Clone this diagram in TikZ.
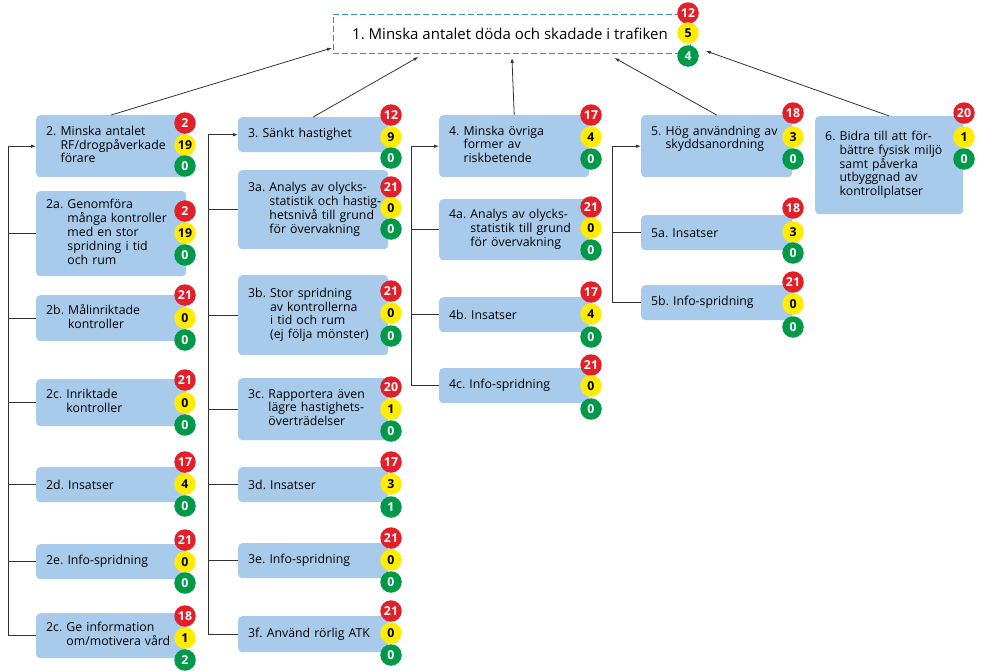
\documentclass[tikz,border=0pt]{standalone}
\usepackage{fontspec}
\setmainfont{Open Sans}
\usetikzlibrary{arrows.meta}
\definecolor{boxblue}{HTML}{A8CBEB}
\definecolor{tlred}{HTML}{E3202A}
\definecolor{tlyellow}{HTML}{FFEC00}
\definecolor{tlgreen}{HTML}{00994A}
\definecolor{dashblue}{HTML}{3A8DCB}
\definecolor{linegray}{HTML}{333333}
\frenchspacing
\newcommand\tlights[8]{%
  \node[lr] (#1r) at (#2,#3) {#6};
  \node[ly] (#1y) at (#2,#4) {#7};
  \node[lg] (#1g) at (#2,#5) {#8};}
\newcommand\goalbox[7]{%
  \node[gbox, minimum width=#4, minimum height=#5, text width=#6, anchor=north west] (#1) at (#2,#3) {#7};}
\newcommand\tb[1]{\begin{tabular}{@{}l@{\ }l@{}}#1\end{tabular}}
\begin{document}
\begin{tikzpicture}[x=1pt,y=-1pt,
  gbox/.style={fill=boxblue, rounded corners=4pt, inner xsep=10pt, inner ysep=0pt, align=left,
    font=\fontsize{12.3}{13.7}\selectfont},
  lbase/.style={circle, minimum size=21.5pt, inner sep=0pt, font=\bfseries\fontsize{12.3}{12.3}\selectfont},
  lr/.style={lbase, fill=tlred, text=white},
  ly/.style={lbase, fill=tlyellow, text=black},
  lg/.style={lbase, fill=tlgreen, text=white},
  conn/.style={draw=linegray, line width=0.8pt},
  arr/.style={conn, -{Latex[length=5pt,width=3.5pt]}},
  topbox/.style={draw=dashblue, line width=0.9pt, dash pattern=on 6pt off 3pt, inner sep=0pt}]
\useasboundingbox (0,0) rectangle (981,670);

% top goal
\node[topbox, minimum width=357, minimum height=39, anchor=north west] (top) at (333,14) {};
\node[anchor=west, inner sep=0pt, font=\fontsize{15}{16}\selectfont] (toptext) at (352,33.5) {1. Minska antalet döda och skadade i trafiken};
\tlights{top}{688}{13}{33}{56}{12}{5}{4}

% column 2
\goalbox{n2}{36}{115}{150}{62}{130}{\tb{2. & Minska antalet\\ & RF/drogpåverkade\\ & förare}}
\goalbox{n2a}{36}{191}{150}{85}{130}{\tb{2a. & Genomföra\\ & många kontroller\\ & med en stor\\ & spridning i tid\\ & och rum}}
\goalbox{n2b}{36}{295}{150}{46}{130}{\tb{2b. & Målinriktade\\ & kontroller}}
\goalbox{n2c}{36}{379}{150}{47}{130}{\tb{2c. & Inriktade\\ & kontroller}}
\goalbox{n2d}{36}{467}{150}{35}{130}{2d. Insatser}
\goalbox{n2e}{36}{544}{150}{35}{130}{2e. Info-spridning}
\goalbox{n2f}{36}{613}{150}{45}{130}{\tb{2c. & Ge information\\ & om/motivera vård}}
\tlights{n2}{185}{123}{145}{166}{2}{19}{0}
\tlights{n2a}{185}{211}{233}{255}{2}{19}{0}
\tlights{n2b}{185}{295}{318}{340}{21}{0}{0}
\tlights{n2c}{185}{380}{403}{425}{21}{0}{0}
\tlights{n2d}{185}{462}{484}{506}{17}{4}{0}
\tlights{n2e}{185}{540}{562}{583}{21}{0}{0}
\tlights{n2f}{185}{616}{638}{660}{18}{1}{2}

% column 3
\goalbox{n3}{238}{117}{150}{35}{130}{3. Sänkt hastighet}
\goalbox{n3a}{238}{170}{150}{79}{130}{\tb{3a. & Analys av olycks-\\ & statistik och hastig-\\ & hetsnivå till grund\\ & för övervakning}}
\goalbox{n3b}{238}{275}{150}{80}{130}{\tb{3b. & Stor spridning\\ & av kontrollerna\\ & i tid och rum\\ & (ej följa mönster)}}
\goalbox{n3c}{238}{378}{150}{62}{130}{\tb{3c. & Rapportera även\\ & lägre hastighets-\\ & överträdelser}}
\goalbox{n3d}{238}{467}{150}{35}{130}{3d. Insatser}
\goalbox{n3e}{238}{543}{150}{35}{130}{3e. Info-spridning}
\goalbox{n3f}{238}{616}{150}{36}{130}{3f. Använd rörlig ATK}
\tlights{n3}{391}{115}{137}{158}{12}{9}{0}
\tlights{n3a}{391}{187}{208}{229}{21}{0}{0}
\tlights{n3b}{391}{291}{313}{336}{21}{0}{0}
\tlights{n3c}{391}{387}{409}{431}{20}{1}{0}
\tlights{n3d}{391}{462}{484}{507}{17}{3}{1}
\tlights{n3e}{391}{538}{560}{582}{21}{0}{0}
\tlights{n3f}{391}{611}{633}{655}{21}{0}{0}

% column 4
\goalbox{n4}{439}{115}{150}{62}{130}{\tb{4. & Minska övriga\\ & former av\\ & riskbetende}}
\goalbox{n4a}{439}{199}{150}{61}{130}{\tb{4a. & Analys av olycks-\\ & statistik till grund\\ & för övervakning}}
\goalbox{n4b}{439}{297}{150}{35}{130}{4b. Insatser}
\goalbox{n4c}{439}{368}{150}{35}{130}{4c. Info-spridning}
\tlights{n4}{591}{115}{137}{159}{17}{4}{0}
\tlights{n4a}{591}{207}{228}{250}{21}{0}{0}
\tlights{n4b}{591}{292}{314}{337}{17}{4}{0}
\tlights{n4c}{591}{365}{386}{409}{21}{0}{0}

% column 5
\goalbox{n5}{641}{115}{151}{62}{131}{\tb{5. & Hög användning av\\ & skyddsanordning\\ & \strut}}
\goalbox{n5a}{641}{215}{151}{35}{131}{5a. Insatser}
\goalbox{n5b}{641}{285}{151}{35}{131}{5b. Info-spridning}
\tlights{n5}{793}{113}{137}{159}{18}{3}{0}
\tlights{n5a}{793}{208}{232}{253}{18}{3}{0}
\tlights{n5b}{793}{282}{304}{327}{21}{0}{0}

% column 6
\goalbox{n6}{815}{116}{148}{98}{128}{\tb{6. & Bidra till att för-\\ & bättre fysisk miljö\\ & samt påverka\\ & utbyggnad av\\ & kontrollplatser}}
\tlights{n6}{964}{113}{137}{159}{20}{1}{0}

% brackets
\coordinate (v2) at (8,0);
\coordinate (v3) at (208,0);
\coordinate (v4) at (411,0);
\coordinate (v5) at (612,0);
\draw[conn] (v2 |- n2.west) -- (v2 |- n2f.west);
\draw[arr] (v2 |- n2.west) -- (n2.west);
\foreach \c in {n2a,n2b,n2c,n2d,n2e,n2f} \draw[conn] (v2 |- \c.west) -- (\c.west);
\draw[conn] (v3 |- n3.west) -- (v3 |- n3f.west);
\draw[arr] (v3 |- n3.west) -- (n3.west);
\foreach \c in {n3a,n3b,n3c,n3d,n3e,n3f} \draw[conn] (v3 |- \c.west) -- (\c.west);
\draw[conn] (v4 |- n4.west) -- (v4 |- n4c.west);
\draw[arr] (v4 |- n4.west) -- (n4.west);
\foreach \c in {n4a,n4b,n4c} \draw[conn] (v4 |- \c.west) -- (\c.west);
\draw[conn] (v5 |- n5.west) -- (v5 |- n5b.west);
\draw[arr] (v5 |- n5.west) -- (n5.west);
\foreach \c in {n5a,n5b} \draw[conn] (v5 |- \c.west) -- (\c.west);

% arrows to the top goal
\draw[arr] (n2.north) -- ([xshift=-1pt,yshift=6pt]top.south west);
\draw[arr] (n3.north) -- ([xshift=-93.5pt,yshift=-3pt]top.south);
\draw[arr] (n4.north) -- ([yshift=-4pt]top.south);
\draw[arr] (n5.north) -- ([xshift=102.5pt,yshift=-4pt]top.south);
\draw[arr] (n6.north) -- ([xshift=15pt,yshift=-17pt]top.east);
\end{tikzpicture}
\end{document}
